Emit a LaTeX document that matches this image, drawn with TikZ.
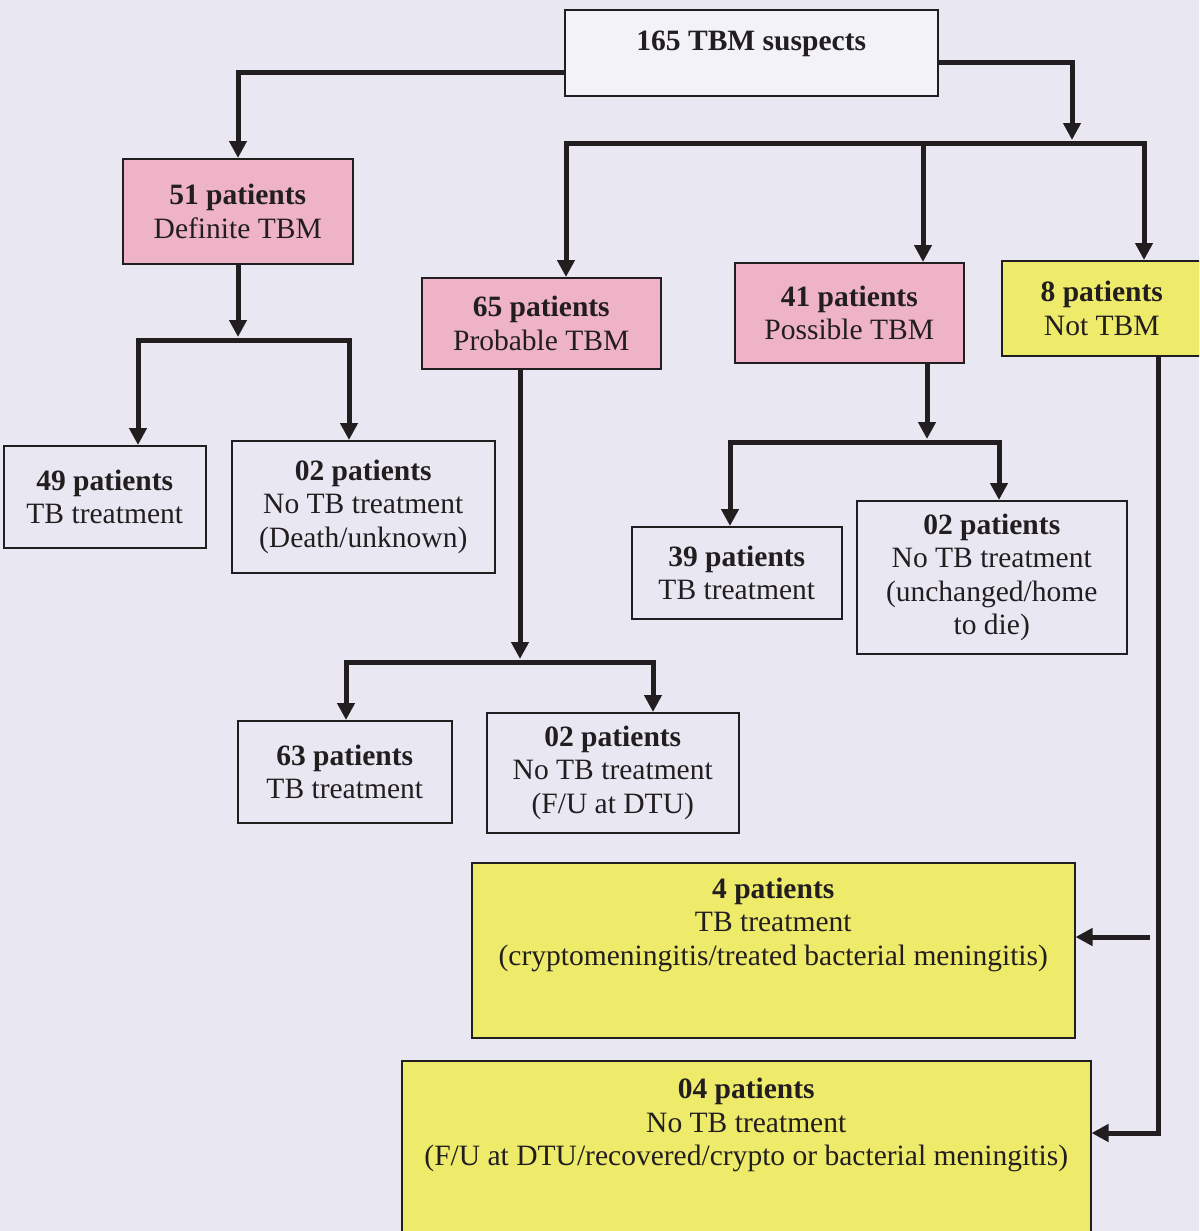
\documentclass[tikz,border=0pt]{standalone}
\usepackage{fontspec}
\setmainfont{Liberation Serif}
\usetikzlibrary{arrows.meta}
\definecolor{ink}{HTML}{221E20}
\definecolor{paper}{HTML}{E9E7F2}
\definecolor{lightbox}{HTML}{F3F2F8}
\definecolor{tbpink}{HTML}{EFB3C8}
\definecolor{tbyellow}{HTML}{EEEA6A}
\newcommand{\lift}[1]{\rule[-#1]{0pt}{#1}}
\tikzset{
  box/.style={draw=ink, line width=0.3mm, align=center, inner sep=0pt,
    anchor=north west, text=ink, font=\fontsize{16.8}{19}\selectfont},
  pinkbox/.style={box, fill=tbpink},
  yellowbox/.style={box, fill=tbyellow},
  flow/.style={draw=ink, line width=1mm, -{Triangle[length=3.4mm,width=3.4mm]}},
}

\begin{document}
\begin{tikzpicture}[x=0.2mm, y=-0.2mm]
  \fill[paper] (0,0) rectangle (1199,1231);
  \useasboundingbox (0,0) rectangle (1199,1231);
  \clip (0,0) rectangle (1199,1231);

  \node at (564,9) [box, fill=lightbox, minimum width=74.6mm, minimum height=17.2mm] (suspects)
    {\textbf{165 TBM suspects}\lift{4.9mm}};

  \node at (122,158) [pinkbox, minimum width=46mm, minimum height=21mm] (definite)
    {\textbf{51 patients}\\Definite TBM};
  \node at (421,277) [pinkbox, minimum width=47.8mm, minimum height=18.2mm] (probable)
    {\textbf{65 patients}\\Probable TBM};
  \node at (734,262) [pinkbox, minimum width=45.8mm, minimum height=20mm] (possible)
    {\textbf{41 patients}\\Possible TBM};
  \node at (1001,260) [yellowbox, minimum width=40mm, minimum height=19mm] (nottbm)
    {\textbf{8 patients}\\Not TBM};

  \node at (3,445) [box, minimum width=40.4mm, minimum height=20.4mm] (deftreat)
    {\textbf{49 patients}\\TB treatment};
  \node at (231,440) [box, minimum width=52.6mm, minimum height=26.4mm] (defnotreat)
    {\textbf{02 patients}\\No TB treatment\\(Death/unknown)};

  \node at (631,526) [box, minimum width=42mm, minimum height=18.4mm] (posstreat)
    {\textbf{39 patients}\\TB treatment};
  \node at (856,500) [box, minimum width=54mm, minimum height=30.6mm] (possnotreat)
    {\textbf{02 patients}\\No TB treatment\\(unchanged/home\\to die)};

  \node at (237,720) [box, minimum width=42.8mm, minimum height=20.4mm] (probtreat)
    {\textbf{63 patients}\\TB treatment};
  \node at (486,712) [box, minimum width=50.4mm, minimum height=24mm] (probnotreat)
    {\textbf{02 patients}\\No TB treatment\\(F/U at DTU)};

  \node at (471,862) [yellowbox, minimum width=120.6mm, minimum height=35mm] (nottreat)
    {\textbf{4 patients}\\TB treatment\\(cryptomeningitis/treated bacterial meningitis)\lift{11.5mm}};
  \node at (401,1060) [yellowbox, minimum width=137.8mm, minimum height=38mm] (notnotreat)
    {\textbf{04 patients}\\No TB treatment\\(F/U at DTU/recovered/crypto or bacterial meningitis)\lift{13.5mm}};

  \coordinate (tophub) at (1072,143);
  \coordinate (defhub) at (238,340);
  \coordinate (probhub) at (520,662);
  \coordinate (posshub) at (927,442);
  \coordinate (notbend) at (1150,937);

  \draw[flow] ([yshift=-4mm]suspects.west) -| (238,0 |- definite.north);
  \draw[flow] ([yshift=-2mm]suspects.east) -| ([yshift=0.6mm]tophub);
  \draw[flow] (tophub) -| (566,0 |- probable.north);
  \draw[flow] (tophub) -| (923,0 |- possible.north);
  \draw[flow] (tophub) -| (1144,0 |- nottbm.north);

  \draw[flow, shorten >=0.6mm] (defhub |- definite.south) -- (defhub);
  \draw[flow] (defhub) -| (138,0 |- deftreat.north);
  \draw[flow] (defhub) -| (349,0 |- defnotreat.north);

  \draw[flow, shorten >=0.6mm] (probhub |- probable.south) -- (probhub);
  \draw[flow] (probhub) -| (346,0 |- probtreat.north);
  \draw[flow] (probhub) -| (653,0 |- probnotreat.north);

  \draw[flow, shorten >=0.6mm] (posshub |- possible.south) -- (posshub);
  \draw[flow] (posshub) -| (730,0 |- posstreat.north);
  \draw[flow] (posshub) -| (999,0 |- possnotreat.north);

  \draw[flow] (1158,0 |- nottbm.south) |- (notnotreat.east |- 0,1133);
  \draw[flow] (notbend) -- (nottreat.east |- notbend);
\end{tikzpicture}
\end{document}
